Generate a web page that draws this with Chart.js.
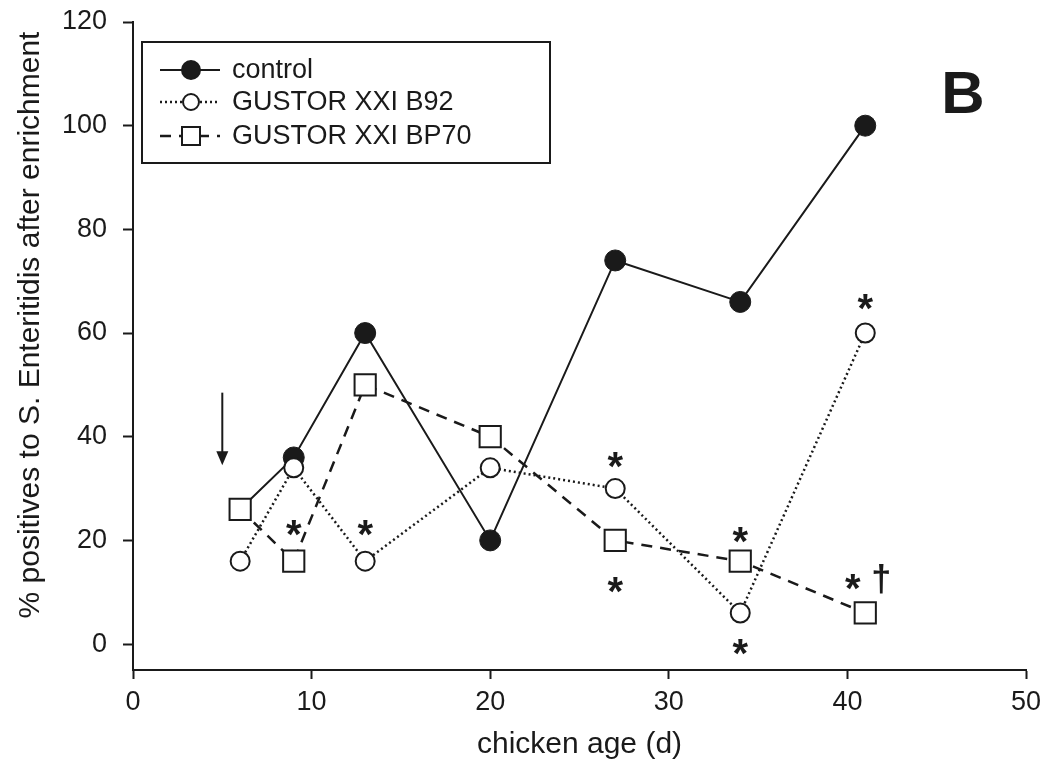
<!DOCTYPE html>
<html>
<head>
<meta charset="utf-8">
<script src="https://cdn.jsdelivr.net/npm/chart.js@4/dist/chart.umd.min.js"></script>
<style>
  html, body { margin: 0; padding: 0; background: #fff; }
  #wrap { width: 1056px; height: 775px; position: relative; }
</style>
</head>
<body>
<div id="wrap"><canvas id="chart"></canvas></div>
<script>
// chicken age (d) for each sampling
const days = [6, 9, 13, 20, 27, 34, 41];
const control = [26, 36, 60, 20, 74, 66, 100];
const b92 = [16, 34, 16, 34, 30, 6, 60];
const bp70 = [26, 16, 50, 40, 20, 16, 6];

const seriesNames = ['control', 'GUSTOR XXI B92', 'GUSTOR XXI BP70'];
const xTicks = [0, 10, 20, 30, 40, 50];
const yTicks = [0, 20, 40, 60, 80, 100, 120];
const yTitle = '% positives to S. Enteritidis after enrichment';

// significance marks [x, y, text]
const marks = [
  [9, 23, '*'], [13, 23, '*'], [27, 36, '*'], [27, 12, '*'],
  [34, 21.5, '*'], [34, 0, '*'], [41, 66.5, '*'], [40.3, 12.5, '*'], [41.9, 12.5, '†'],
];
const arrowAt = [5, 48.5, 34.5];

const INK = '#1a1a1a';
const FONT = "'Liberation Sans', Arial, sans-serif";

const pts = (ys) => days.map((d, i) => ({ x: d, y: ys[i] }));

const styles = [
  { borderDash: [], borderWidth: 2, pointStyle: 'circle', pointRadius: 10.5, pointBackgroundColor: INK, pointBorderWidth: 1 },
  { borderDash: [2, 3], borderWidth: 2.5, pointStyle: 'circle', pointRadius: 9.5, pointBackgroundColor: '#fff', pointBorderWidth: 2 },
  { borderDash: [11, 8], borderWidth: 2.5, pointStyle: 'rect', pointRadius: 15, pointBackgroundColor: '#fff', pointBorderWidth: 2 },
];

const extras = {
  id: 'extras',
  afterDatasetsDraw(chart) {
    const { ctx, scales: { x, y } } = chart;
    ctx.save();
    ctx.fillStyle = INK;
    ctx.textAlign = 'center';
    marks.forEach(([mx, my, t]) => {
      const px = x.getPixelForValue(mx);
      const py = y.getPixelForValue(my);
      if (t === '*') {
        ctx.font = `bold 40px ${FONT}`;
        ctx.textBaseline = 'alphabetic';
        ctx.fillText(t, px, py + 0.57 * 40);
      } else {
        ctx.font = `bold 36px ${FONT}`;
        ctx.textBaseline = 'middle';
        ctx.fillText(t, px, py + 2);
      }
    });

    // arrow marking the challenge day
    const ax = x.getPixelForValue(arrowAt[0]);
    const a0 = y.getPixelForValue(arrowAt[1]);
    const a1 = y.getPixelForValue(arrowAt[2]);
    ctx.strokeStyle = INK;
    ctx.lineWidth = 2;
    ctx.beginPath();
    ctx.moveTo(ax, a0);
    ctx.lineTo(ax, a1 - 10);
    ctx.stroke();
    ctx.beginPath();
    ctx.moveTo(ax - 6, a1 - 14);
    ctx.lineTo(ax + 6, a1 - 14);
    ctx.lineTo(ax, a1);
    ctx.closePath();
    ctx.fill();

    // y axis title, placed a bit above the plot centre like the original
    ctx.save();
    ctx.translate(31, 325);
    ctx.rotate(-Math.PI / 2);
    ctx.font = `30px ${FONT}`;
    ctx.textBaseline = 'middle';
    ctx.fillText(yTitle, 0, 0);
    ctx.restore();

    // panel letter
    ctx.font = `bold 60px ${FONT}`;
    ctx.textBaseline = 'middle';
    ctx.fillText('B', 963, 96);

    // legend box
    ctx.lineWidth = 2;
    ctx.strokeRect(142, 42, 408, 121);
    const rows = [70, 102, 136];
    ctx.font = `27px ${FONT}`;
    ctx.textAlign = 'left';
    rows.forEach((ry, i) => {
      const s = styles[i];
      ctx.setLineDash(s.borderDash);
      ctx.lineWidth = s.borderWidth;
      ctx.beginPath();
      ctx.moveTo(160, ry);
      ctx.lineTo(220, ry);
      ctx.stroke();
      ctx.setLineDash([]);
      ctx.lineWidth = 2;
      ctx.fillStyle = s.pointBackgroundColor;
      if (s.pointStyle === 'rect') {
        ctx.fillRect(182, ry - 9, 18, 18);
        ctx.strokeRect(182, ry - 9, 18, 18);
      } else {
        ctx.beginPath();
        ctx.arc(191, ry, i === 0 ? 9 : 8, 0, Math.PI * 2);
        ctx.fill();
        ctx.stroke();
      }
      ctx.fillStyle = INK;
      ctx.fillText(seriesNames[i], 232, ry + 1);
    });
    ctx.restore();
  },
};

const tickFont = { family: FONT, size: 27 };

new Chart(document.getElementById('chart'), {
  type: 'line',
  data: {
    datasets: [control, b92, bp70].map((ys, i) => ({
      label: seriesNames[i],
      data: pts(ys),
      borderColor: INK,
      pointBorderColor: INK,
      fill: false,
      tension: 0,
      order: 3 - i,
      ...styles[i],
    })),
  },
  options: {
    responsive: true,
    maintainAspectRatio: false,
    animation: false,
    events: [],
    layout: { padding: { top: 22, right: 30, left: 0, bottom: 0 } },
    plugins: { legend: { display: false }, tooltip: { enabled: false } },
    scales: {
      x: {
        type: 'linear',
        min: 0,
        max: 50,
        afterBuildTicks: (s) => { s.ticks = xTicks.map((v) => ({ value: v })); },
        afterFit: (s) => { s.height = 105; },
        border: { display: true, color: INK, width: 2 },
        grid: { drawOnChartArea: false, tickLength: 9, tickColor: INK, tickWidth: 2 },
        ticks: { color: INK, font: tickFont, padding: 7, maxRotation: 0 },
        title: { display: true, text: 'chicken age (d)', color: INK, font: { family: FONT, size: 30 }, padding: { bottom: 12 } },
      },
      y: {
        min: -5,
        max: 120,
        afterBuildTicks: (s) => { s.ticks = yTicks.map((v) => ({ value: v })); },
        afterFit: (s) => { s.width = 133; s.paddingTop = 0; s.paddingBottom = 0; },
        border: { display: true, color: INK, width: 2 },
        grid: { drawOnChartArea: false, tickLength: 10, tickColor: INK, tickWidth: 2 },
        ticks: { color: INK, font: tickFont, padding: 16 },
      },
    },
  },
  plugins: [extras],
});
</script>
</body>
</html>
